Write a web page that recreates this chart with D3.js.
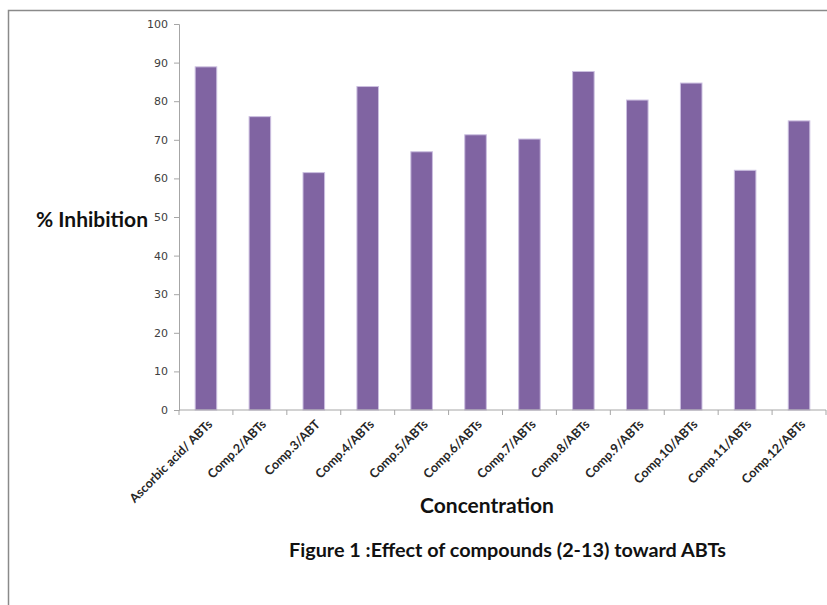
<!DOCTYPE html>
<html>
<head>
<meta charset="utf-8">
<script src="https://cdn.jsdelivr.net/npm/d3@7"></script>
<style>
  html, body { margin: 0; padding: 0; background: #fff; }
  svg { display: block; }
</style>
</head>
<body>
<svg id="chart" width="827" height="605"></svg>
<script>
// Antioxidant activity of the compounds measured against the ABTs radical
const categories = [
  "Ascorbic acid/ ABTs", "Comp.2/ABTs", "Comp.3/ABT", "Comp.4/ABTs",
  "Comp.5/ABTs", "Comp.6/ABTs", "Comp.7/ABTs", "Comp.8/ABTs",
  "Comp.9/ABTs", "Comp.10/ABTs", "Comp.11/ABTs", "Comp.12/ABTs"
];
const inhibition = [88.9, 76.0, 61.5, 83.8, 66.9, 71.3, 70.2, 87.7, 80.3, 84.7, 62.1, 74.9];
const yTicks = [0, 10, 20, 30, 40, 50, 60, 70, 80, 90, 100];

const svg = d3.select("#chart");
const font = "Lato, 'Open Sans', sans-serif";

// outer frame
svg.append("path")
  .attr("d", "M8.5,610 L8.5,10.5 L830,10.5")
  .attr("fill", "none")
  .attr("stroke", "#8a8a8a")
  .attr("stroke-width", 1.5);

const plot = { left: 179, right: 826, top: 24, bottom: 410 };

const x = d3.scaleBand()
  .domain(categories)
  .range([plot.left, plot.right])
  .paddingInner(0.6)
  .paddingOuter(0.3);

const y = d3.scaleLinear()
  .domain([0, 100])
  .range([plot.bottom, plot.top]);

// bars
svg.append("g")
  .selectAll("rect")
  .data(categories)
  .join("rect")
  .attr("x", d => x(d))
  .attr("y", (d, i) => y(inhibition[i]))
  .attr("width", x.bandwidth())
  .attr("height", (d, i) => y(0) - y(inhibition[i]))
  .attr("fill", "#8064a2")
  .attr("stroke", "#cbbfe0")
  .attr("stroke-width", 1);

// y axis
const yAxis = svg.append("g")
  .attr("transform", `translate(${plot.left},0)`)
  .call(d3.axisLeft(y).tickValues(yTicks).tickSize(5).tickPadding(6));
yAxis.select(".domain").attr("stroke", "#a6a6a6");
yAxis.selectAll(".tick line").attr("stroke", "#a6a6a6");
yAxis.selectAll(".tick text")
  .attr("fill", "#404040")
  .style("font-family", "'DejaVu Sans', sans-serif")
  .style("font-size", "11px");

// x axis with tick marks on category boundaries
const xAxisG = svg.append("g").attr("transform", `translate(0,${plot.bottom})`);
xAxisG.append("line")
  .attr("x1", plot.left).attr("x2", plot.right)
  .attr("stroke", "#a6a6a6");
const step = (plot.right - plot.left) / categories.length;
xAxisG.selectAll("line.sep")
  .data(d3.range(categories.length + 1))
  .join("line")
  .attr("class", "sep")
  .attr("x1", i => plot.left + i * step)
  .attr("x2", i => plot.left + i * step)
  .attr("y1", 0).attr("y2", 5)
  .attr("stroke", "#a6a6a6");

xAxisG.selectAll("text")
  .data(categories)
  .join("text")
  .attr("transform", d => `translate(${x(d) + x.bandwidth() / 2 + 4},12) rotate(-45)`)
  .attr("text-anchor", "end")
  .attr("dy", "0.35em")
  .attr("fill", "#262626")
  .style("font-family", font)
  .style("font-weight", "bold")
  .style("font-size", "12.5px")
  .text(d => d);

// axis titles
svg.append("text")
  .attr("x", 148).attr("y", 220)
  .attr("text-anchor", "end")
  .attr("dy", "0.35em")
  .style("font-family", font)
  .style("font-weight", "bold")
  .style("font-size", "21px")
  .attr("fill", "#111")
  .text("% Inhibition");

svg.append("text")
  .attr("x", 487).attr("y", 506)
  .attr("text-anchor", "middle")
  .attr("dy", "0.35em")
  .style("font-family", font)
  .style("font-weight", "bold")
  .style("font-size", "21px")
  .attr("fill", "#111")
  .text("Concentration");

svg.append("text")
  .attr("x", 289).attr("y", 550)
  .attr("dy", "0.35em")
  .style("font-family", font)
  .style("font-weight", "bold")
  .style("font-size", "19.8px")
  .attr("fill", "#111")
  .text("Figure 1 :Effect of compounds (2-13) toward ABTs");
</script>
</body>
</html>
